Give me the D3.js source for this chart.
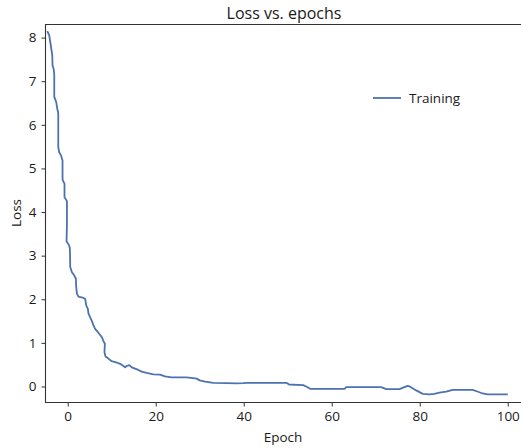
<!DOCTYPE html>
<html>
<head>
<meta charset="utf-8">
<script src="https://cdn.jsdelivr.net/npm/d3@7"></script>
<style>
  body { margin: 0; background: #fff; }
  text { font-family: "Open Sans", sans-serif; fill: #1a1a1a; }
</style>
</head>
<body>
<svg id="chart" width="521" height="448"></svg>
<script>
// Training loss, [epoch, loss]
const epochs = [-4.65, -4.2, -3.97, -3.74, -3.51, -3.45, -3.22, -3.06, -3.06, -2.61, -2.38, -2.15, -2.15, -1.93, -1.54,
  -1.18, -1.18, -1.1, -0.73, -0.73, -0.18, -0.18, -0.27, 0.34, 0.5, 0.57, 0.95, 1.47, 1.86, 1.93, 2.09, 2.45, 3.58,
  3.97, 4.2, 4.58, 4.72, 5.26, 5.62, 5.85, 6.24, 6.76, 7.14, 7.76, 8.12, 8.44, 8.35, 8.57, 9.25, 10.0, 11.16, 11.9,
  12.65, 13.04, 13.4, 14.0, 14.56, 15.3, 16.05, 16.8, 17.96, 19.46, 20.98, 22.1, 23.6, 27.0, 28.5, 29.3, 30.0, 31.2,
  33.1, 36.1, 38.4, 39.9, 40.6, 49.7, 50.3, 53.5, 54.2, 55.1, 62.9, 63.3, 71.2, 72.4, 75.4, 76.5, 77.3, 78.0, 79.2,
  80.7, 82.2, 83.3, 84.5, 86.0, 87.5, 92.0, 93.1, 94.3, 95.4, 100];
const trainLoss = [8.15, 8.05, 7.9, 7.75, 7.6, 7.36, 7.29, 7.16, 6.64, 6.52, 6.37, 6.27, 5.49, 5.37, 5.3,
  5.18, 4.77, 4.72, 4.65, 4.34, 4.25, 3.69, 3.33, 3.23, 3.16, 2.74, 2.62, 2.55, 2.47, 2.28, 2.13, 2.06, 2.03,
  2.01, 1.86, 1.78, 1.67, 1.55, 1.47, 1.40, 1.32, 1.26, 1.21, 1.13, 1.04, 0.98, 0.79, 0.69, 0.64, 0.58, 0.55, 0.52,
  0.47, 0.44, 0.47, 0.49, 0.44, 0.41, 0.38, 0.34, 0.31, 0.28, 0.27, 0.23, 0.21, 0.21, 0.19, 0.18, 0.14, 0.11,
  0.085, 0.076, 0.07, 0.076, 0.085, 0.085, 0.046, 0.03, 0.0, -0.053, -0.053, -0.015, -0.015, -0.06, -0.06, -0.015, 0.016, -0.015, -0.09,
  -0.17, -0.18, -0.17, -0.14, -0.12, -0.076, -0.076, -0.115, -0.16, -0.18, -0.18];
const xTicks = [0, 20, 40, 60, 80, 100];
const yTicks = [0, 1, 2, 3, 4, 5, 6, 7, 8];

const svg = d3.select('#chart');
const margin = {top: 24.5, left: 45.5, right: 0.5, bottom: 45.5};
const width = 521, height = 448;

const x = d3.scaleLinear().domain([-5.05, 102.9]).range([margin.left, width - margin.right]);
const y = d3.scaleLinear().domain([-0.367, 8.3]).range([height - margin.bottom, margin.top]);

const data = epochs.map((e, i) => ({epoch: e, loss: trainLoss[i]}));

// the line
const line = d3.line().x(d => x(d.epoch)).y(d => y(d.loss));
svg.append('path')
  .datum(data)
  .attr('d', line)
  .attr('fill', 'none')
  .attr('stroke', '#4c72b0')
  .attr('stroke-width', 1.8)
  .attr('stroke-linejoin', 'round');

// spines
svg.append('path')
  .attr('d', `M${width},${margin.top}H${margin.left}V${height - margin.bottom}H${width}`)
  .attr('fill', 'none').attr('stroke', '#333').attr('stroke-width', 1.1);

// axes
const xAxis = svg.append('g')
  .attr('transform', `translate(0,${height - margin.bottom})`)
  .call(d3.axisBottom(x).tickValues(xTicks).tickSize(4).tickPadding(5));
const yAxis = svg.append('g')
  .attr('transform', `translate(${margin.left},0)`)
  .call(d3.axisLeft(y).tickValues(yTicks).tickSize(4).tickPadding(5));
[xAxis, yAxis].forEach(g => {
  g.select('.domain').remove();
  g.selectAll('.tick line').attr('stroke', '#333').attr('stroke-width', 1);
  g.selectAll('.tick text').attr('font-size', 13.5).attr('font-family', 'Open Sans').attr('fill', '#1a1a1a');
});

// labels & title
svg.append('text').attr('x', 284).attr('y', 18.5).attr('text-anchor', 'middle')
  .attr('font-size', 16).text('Loss vs. epochs');
svg.append('text').attr('x', 283).attr('y', 442).attr('text-anchor', 'middle')
  .attr('font-size', 13.5).text('Epoch');
svg.append('text').attr('transform', 'translate(21,213) rotate(-90)').attr('text-anchor', 'middle')
  .attr('font-size', 13.5).text('Loss');

// legend
const legend = svg.append('g').attr('transform', 'translate(373,98)');
legend.append('line').attr('x1', 0).attr('x2', 28).attr('y1', 0).attr('y2', 0)
  .attr('stroke', '#4c72b0').attr('stroke-width', 1.8);
legend.append('text').attr('x', 36).attr('y', 5).attr('font-size', 13.5).text('Training');
</script>
</body>
</html>
